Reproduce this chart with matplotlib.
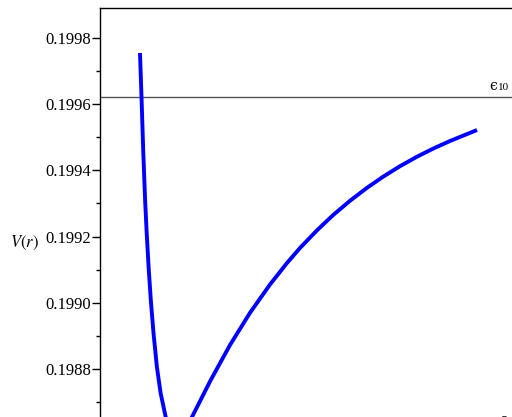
import matplotlib
matplotlib.use("Agg")
import matplotlib.pyplot as plt

plt.rcParams['mathtext.fontset'] = 'stix'
plt.rcParams['font.family'] = ['Liberation Serif', 'DejaVu Serif']

# data
r = [1.000, 1.0375, 1.080, 1.1275, 1.1675, 1.215, 1.270, 1.3375, 1.4225,
     1.515, 1.6425, 1.70, 1.80, 1.95, 2.10, 2.20, 2.30, 2.75, 3.25, 3.75,
     4.25, 4.675, 5.00, 5.425, 5.825, 6.25, 6.675, 7.075, 7.50, 7.925,
     8.325, 8.75, 9.425]
V = [0.1997547, 0.1996218, 0.1994616, 0.1993106, 0.1992109, 0.1991082,
     0.1990085, 0.1989088, 0.1988060, 0.1987275, 0.1986550, 0.1986338,
     0.1986202, 0.1986127, 0.1986157, 0.1986323, 0.1986550, 0.1987625,
     0.1988725, 0.1989698, 0.1990553, 0.1991202, 0.1991656, 0.1992190,
     0.1992647, 0.1993082, 0.1993474, 0.1993807, 0.1994127, 0.1994414,
     0.1994656, 0.1994888, 0.1995220]
eps10 = 0.199621
major_ticks = [0.1988, 0.1990, 0.1992, 0.1994, 0.1996, 0.1998]
tick_labels = ["0.1988", "0.1990", "0.1992", "0.1994", "0.1996", "0.1998"]
minor_ticks = [0.1987, 0.1989, 0.1991, 0.1993, 0.1995, 0.1997]

W, H = 512, 417
fig = plt.figure(figsize=(W / 100, H / 100), dpi=100)
ax = fig.add_axes([100 / W, 0, 1 - 100 / W, 1 - 8 / H])

ax.plot(r, V, color=(0, 0, 1), lw=2.8, solid_capstyle='butt',
        solid_joinstyle='round', zorder=3)
ax.axhline(eps10, color='#555555', lw=1.0, zorder=2)

ax.set_xlim(0, 10.3)
ax.set_ylim(0.198655, 0.1998906)

ax.set_yticks(major_ticks)
ax.set_yticklabels(tick_labels, fontsize=12)
ax.set_yticks(minor_ticks, minor=True)
ax.tick_params(axis='y', which='major', length=5.5, width=1, direction='out', pad=1)
ax.tick_params(axis='y', which='minor', length=3, width=1, direction='out')
ax.set_xticks([])
for s in ['right', 'bottom']:
    ax.spines[s].set_visible(False)
for s in ['left', 'top']:
    ax.spines[s].set_linewidth(1.0)

fig.text(10 / W, 1 - 243 / H, r'$V(r)$', fontsize=12, ha='left', va='center')

# epsilon_10 label
fig.text(489.5 / W, 1 - 90.5 / H, '\u03f5', fontsize=10, family='DejaVu Serif',
         ha='left', va='baseline')
fig.text(497.5 / W, 1 - 90.5 / H, '10', fontsize=8, ha='left', va='baseline')
# partially visible label at the bottom edge
fig.text(499 / W, 1 - 424 / H, '\u03f5', fontsize=10, family='DejaVu Serif',
         ha='left', va='baseline')

fig.savefig("out.png", dpi=100)
